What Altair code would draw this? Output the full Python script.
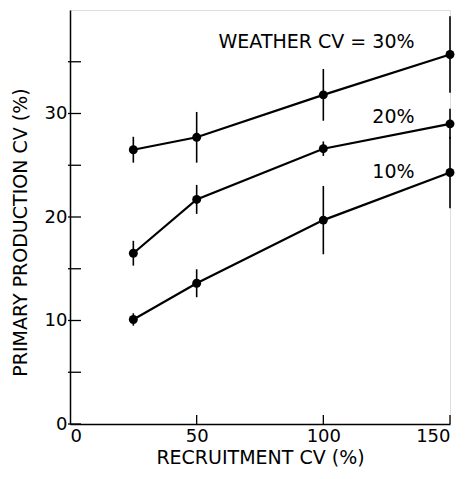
import altair as alt
import pandas as pd

# Data
recruit_cv = [25, 50, 100, 150]
weather_levels = ["30%", "20%", "10%"]
pp_30 = [26.5, 27.7, 31.8, 35.7]
err_30 = [1.25, 2.45, 2.5, 3.7]
pp_20 = [16.5, 21.7, 26.6, 29.0]
err_20 = [1.2, 1.4, 0.7, 1.45]
pp_10 = [10.1, 13.6, 19.7, 24.3]
err_10 = [0.6, 1.35, 3.3, 3.45]

label_text = ["WEATHER CV = 30%", "20%", "10%"]
label_x = [136, 136, 136]
label_y = [36.9, 29.7, 24.3]

y_ticks = [0, 10, 20, 30]
y_minor = [5, 15, 25, 35]
x_ticks = [0, 50, 100, 150]
x_inner_ticks = [50, 100, 150]

rows = []
for lvl, vals, errs in zip(weather_levels, [pp_30, pp_20, pp_10], [err_30, err_20, err_10]):
    for x, v, e in zip(recruit_cv, vals, errs):
        rows.append({"weather": lvl, "recruit": x, "pp": v, "lo": v - e, "hi": v + e})
df = pd.DataFrame(rows)
labels = pd.DataFrame({"text": label_text, "x": label_x, "y": label_y})
ytk = pd.DataFrame({"y": y_ticks + y_minor})
xtk = pd.DataFrame({"x": x_inner_ticks})

FONT = "DejaVu Sans"
xscale = alt.Scale(domain=[0, 150], nice=False)
yscale = alt.Scale(domain=[0, 40], nice=False)

xenc = alt.X("recruit:Q", scale=xscale,
             axis=alt.Axis(title="RECRUITMENT CV (%)", values=x_ticks, ticks=False,
                           labelPadding=3, titlePadding=3, grid=False,
                           domainColor="black", domainWidth=1.5,
                           labelFont=FONT, labelFontSize=18, labelColor="black",
                           titleFont=FONT, titleFontSize=19, titleFontWeight="normal",
                           titleColor="black"))
yenc = alt.Y("pp:Q", scale=yscale,
             axis=alt.Axis(title="PRIMARY PRODUCTION CV (%)", values=y_ticks, ticks=False,
                           labelPadding=3, grid=False,
                           domainColor="black", domainWidth=1.5,
                           labelFont=FONT, labelFontSize=18, labelColor="black",
                           titleFont=FONT, titleFontSize=19, titleFontWeight="normal",
                           titleColor="black", titleX=-50, titleY=222,
                           titleBaseline="middle", titleAlign="center"))

base = alt.Chart(df)
lines = base.mark_line(color="black", strokeWidth=2.2).encode(
    x=xenc, y=yenc, detail="weather:N")
points = base.mark_circle(color="black", size=80, opacity=1).encode(
    x="recruit:Q", y="pp:Q")
errs = base.mark_rule(color="black", strokeWidth=1.6).encode(
    x="recruit:Q", y="lo:Q", y2="hi:Q")
text = alt.Chart(labels).mark_text(align="right", baseline="middle", font=FONT,
                                   fontSize=19, color="black").encode(
    x=alt.X("x:Q", scale=xscale), y=alt.Y("y:Q", scale=yscale), text="text:N")
yt = alt.Chart(ytk).mark_rule(color="black", strokeWidth=1.3).encode(
    y=alt.Y("y:Q", scale=yscale), x=alt.value(-2), x2=alt.value(11))
xt = alt.Chart(xtk).mark_rule(color="black", strokeWidth=1.3).encode(
    x=alt.X("x:Q", scale=xscale), y=alt.value(414), y2=alt.value(405))

chart = alt.layer(lines, errs, points, text, yt, xt).properties(
    width=380, height=414,
    autosize=alt.AutoSizeParams(type="none"),
    padding={"left": 70, "top": 10, "right": 22, "bottom": 55},
).configure_view(stroke=None).configure(background="white")

chart.save("out.html", embed_options={"renderer": "svg", "actions": False})
